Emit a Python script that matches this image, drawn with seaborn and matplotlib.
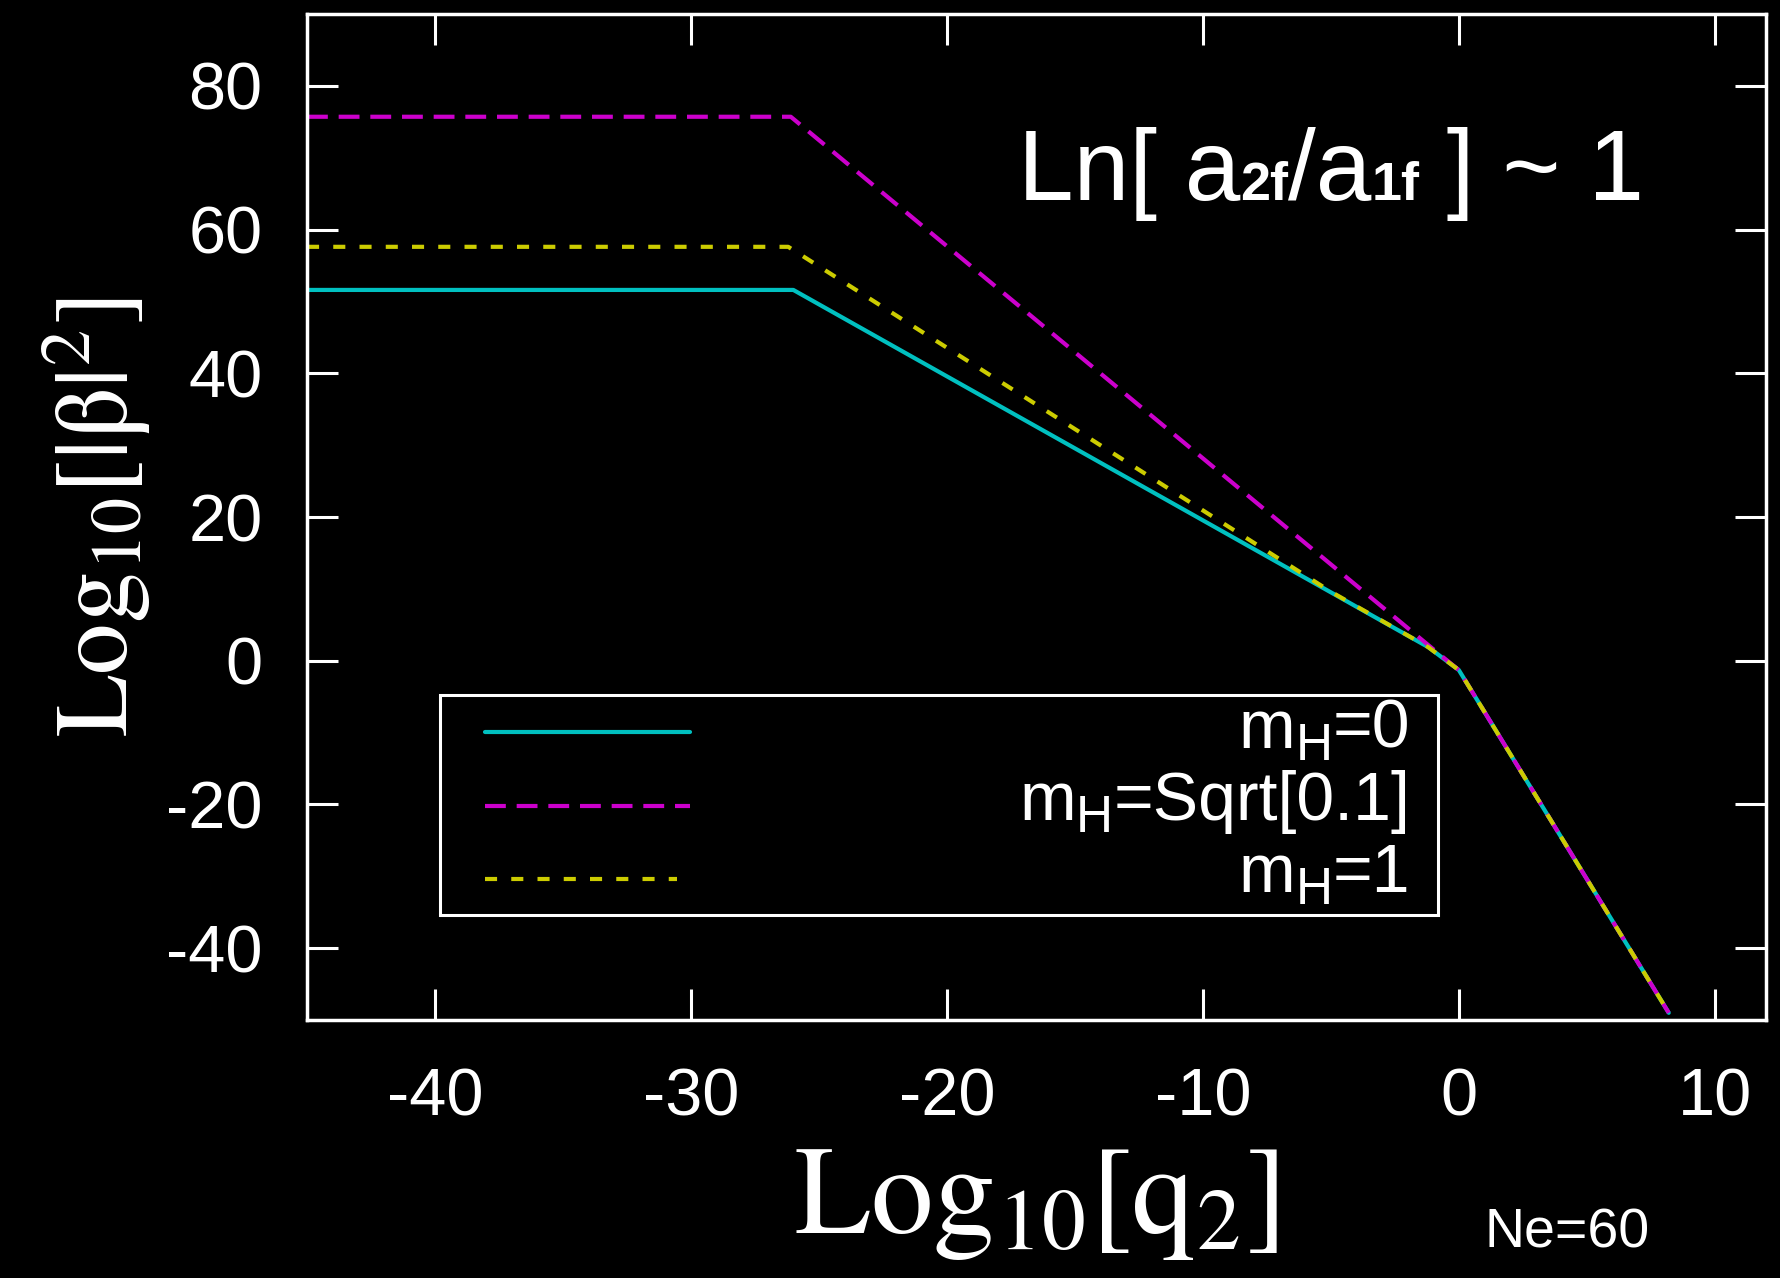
import numpy as np
import pandas as pd
import matplotlib
matplotlib.use("Agg")
import matplotlib.pyplot as plt
from matplotlib.patches import Rectangle
import seaborn as sns

# ---------------- data ----------------
x_ticks = [-40, -30, -20, -10, 0, 10]
y_ticks = [-40, -20, 0, 20, 40, 60, 80]

series_keys = ["m0", "msqrt", "m1"]
legend_main = ["m", "m", "m"]
legend_sub = ["H", "H", "H"]
legend_rest = ["=0", "=Sqrt[0.1]", "=1"]
series_colors = ["#00c0c0", "#cc00cc", "#cccc00"]

x_m0 = [-45.0, -26.0, -1.2, 0.0, 8.2]
y_m0 = [51.6, 51.6, 1.9, -1.3, -49.0]

x_msqrt = [-45.0, -26.1, -1.0, 0.0, 8.2]
y_msqrt = [75.7, 75.7, 1.6, -1.3, -49.0]

x_m1 = [-45.0, -26.2, -5.0, -1.2, 0.0, 8.2]
y_m1 = [57.6, 57.6, 9.6, 1.9, -1.3, -49.0]

annotation_text = ["Ln[ a", "2f", "/a", "1f", " ] ~ 1"]
ne_text = "Ne=60"

# ---------------- style ----------------
sns.set_theme(style="ticks", rc={
    "figure.facecolor": "black",
    "axes.facecolor": "black",
    "savefig.facecolor": "black",
    "axes.edgecolor": "white",
    "text.color": "white",
    "axes.labelcolor": "white",
    "xtick.color": "white",
    "ytick.color": "white",
})
plt.rcParams["font.family"] = ["Liberation Sans", "DejaVu Sans"]
plt.rcParams["mathtext.fontset"] = "custom"
plt.rcParams["mathtext.rm"] = "Liberation Sans"
plt.rcParams["mathtext.it"] = "Liberation Sans:italic"
plt.rcParams["mathtext.bf"] = "Liberation Sans:bold"
plt.rcParams["mathtext.sf"] = "Liberation Sans"

df = pd.concat([
    pd.DataFrame({"x": x_m0, "y": y_m0, "series": "m0"}),
    pd.DataFrame({"x": x_msqrt, "y": y_msqrt, "series": "msqrt"}),
    pd.DataFrame({"x": x_m1, "y": y_m1, "series": "m1"}),
], ignore_index=True)

dash_map = {"m0": "", "msqrt": (5.0, 2.6), "m1": (2.9, 3.4)}
palette = dict(zip(series_keys, series_colors))

fig = plt.figure(figsize=(17.81, 12.78), dpi=100)
ax = fig.add_axes([307 / 1781, 1 - 1020 / 1278, 1459 / 1781, 1006 / 1278])

sns.lineplot(data=df, x="x", y="y", hue="series", style="series",
             hue_order=series_keys, style_order=series_keys,
             palette=palette, dashes=dash_map, sort=False, estimator=None,
             linewidth=3, legend=False, ax=ax)

ax.set_xlim(-45, 12)
ax.set_ylim(-50, 90)
ax.set_xticks(x_ticks)
ax.set_yticks(y_ticks)
ax.set_xticklabels([str(v) for v in x_ticks])
ax.set_yticklabels([str(v) for v in y_ticks])

for s in ax.spines.values():
    s.set_color("white")
    s.set_linewidth(2.5)

ax.tick_params(which="both", direction="in", top=True, right=True,
               length=22, width=2.2, colors="white", labelsize=48)
ax.tick_params(axis="x", pad=34)
ax.tick_params(axis="y", pad=32)

ax.set_xlabel(r"$\mathrm{Log}_{10}[\mathrm{q}_{2}]$", fontsize=90,
              math_fontfamily="stix", color="white")
ax.xaxis.set_label_coords(0.5, -0.125)
ax.set_ylabel(r"$\mathrm{Log}_{10}[|\mathrm{\beta}|^{2}]$", fontsize=74,
              math_fontfamily="stix", color="white")
ax.yaxis.set_label_coords(-0.1055, 0.5)

# ---------------- legend (drawn manually, right-aligned labels) ----------------
ax.add_patch(Rectangle((0.0912, 0.1044), 0.684, 0.2187, transform=ax.transAxes,
                       fill=False, edgecolor="white", lw=2.2, zorder=5))
row_y = [0.2863, 0.2127, 0.1402]
text_y = [0.2704, 0.1988, 0.1272]
sample_end = [0.2625, 0.2625, 0.2536]
for key, c, ry, ty, xe, mtxt, stxt, rtxt in zip(series_keys, series_colors,
                                                row_y, text_y, sample_end,
                                                legend_main, legend_sub, legend_rest):
    d = dash_map[key]
    ls = "-" if d == "" else (0, d)
    ax.plot([0.122, xe], [ry, ry], transform=ax.transAxes, color=c, lw=3,
            linestyle=ls, zorder=6)
    t_r = ax.text(0.756, ty, rtxt, transform=ax.transAxes, ha="right",
                  va="baseline", fontsize=49, color="white", zorder=6)
    t_s = ax.annotate(stxt, xy=(0, ty), xycoords=(t_r, ax.transAxes),
                      xytext=(0, -8.5), textcoords="offset points",
                      ha="right", va="baseline", fontsize=37, color="white",
                      zorder=6)
    ax.annotate(mtxt, xy=(0, ty), xycoords=(t_s, ax.transAxes),
                ha="right", va="baseline", fontsize=49, color="white", zorder=6)

# ---------------- annotation ----------------
t = ax.text(0.487, 0.815, annotation_text[0], transform=ax.transAxes,
            fontsize=72, color="white", va="baseline", ha="left")
sizes = [None, 39, 72, 39, 72]
weights = [None, "bold", "normal", "bold", "normal"]
for txt, fs, fw in zip(annotation_text[1:], sizes[1:], weights[1:]):
    t = ax.annotate(txt, xy=(1, 0.815), xycoords=(t, ax.transAxes),
                    fontsize=fs, fontweight=fw, color="white",
                    va="baseline", ha="left")

fig.text(1485 / 1781, 1 - 1247 / 1278, ne_text, fontsize=40, color="white",
         ha="left", va="baseline")

fig.savefig("out.png", dpi=100, facecolor="black")
